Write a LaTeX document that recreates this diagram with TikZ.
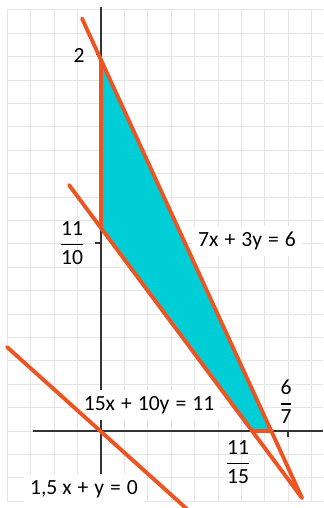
\documentclass[tikz,border=0pt]{standalone}
\usepackage{amsmath}
\usepackage{fontspec}
\setmainfont{Carlito}
\usepackage{tikz}
\usetikzlibrary{positioning}
\definecolor{region}{RGB}{0,206,214}
\definecolor{bound}{RGB}{238,84,34}
\newcommand{\frc}[2]{$\genfrac{}{}{0.7pt}{0}{\text{#1}}{\text{#2}}$}

\begin{document}
\begin{tikzpicture}[every node/.style={font=\fontsize{12.3}{14}\selectfont},
    eq/.style={fill=white,inner sep=3.5pt},
    boundline/.style={bound,line width=2.2pt,line cap=round},
    axisline/.style={black!80,line width=1.1pt}]
  \useasboundingbox (-2.02,-1.54) rectangle (4.44,8.62);
  \draw[black!10,line width=0.5pt,step=0.468] (-1.88,-1.41) grid (4.44,8.43);
  % corners of the region and ends of the lines
  \coordinate (p2) at (0,7.42);
  \coordinate (p11) at (0,4.06);
  \coordinate (q) at (3.02,0);
  \coordinate (r) at (3.40,0);
  \coordinate (m) at (4.02,-1.34);
  \coordinate (a0) at (-0.38,8.25);
  \coordinate (b0) at (-0.64,4.92);
  \coordinate (c0) at (-1.88,1.68);
  \coordinate (c1) at (1.74,-1.58);
  \fill[region] (p2) -- (p11) -- (q) -- (r) -- cycle;
  % axes
  \coordinate (xl) at (-1.36,0);
  \coordinate (xr) at (4.44,0);
  \coordinate (yb) at (0,-0.9);
  \coordinate (yt) at (0,8.48);
  \draw[axisline] (xl) -- (xr);
  \draw[axisline] (yb) -- (yt);
  \coordinate (t1) at (3.74,0);
  \coordinate (t2) at (0,7.54);
  \coordinate (t3) at (0,3.76);
  \draw[axisline,line width=0.6pt] (t1) -- ++(0,-0.12);
  \draw[axisline,line width=0.6pt] (t2) -- ++(-0.1,0);
  \draw[axisline,line width=0.6pt] (t3) -- ++(-0.12,0);
  % labels
  \node (l2) at (-0.44,7.52) {2};
  \node (l1110) at (-0.58,3.76) {\frc{11}{10}};
  \node[eq] (la) at (2.92,3.80) {7x\;+\;3y\;=\;6};
  \node[eq] (lb) at (0.96,0.52) {15x\;+\;10y\;=\;11};
  \node (l67) at (3.70,0.58) {\frc{6}{7}};
  \node (l1115) at (2.74,-0.62) {\frc{11}{15}};
  \node[eq] (lc) at (-0.34,-1.16) {1,5 x\;+\;y\;=\;0};
  % boundary lines
  \draw[boundline] (a0) -- (m);
  \draw[boundline] (b0) -- (m);
  \draw[boundline] (c0) -- (c1);
  \draw[boundline] (p2) -- (p11);
  \draw[boundline] (q) -- (r);
\end{tikzpicture}
\end{document}
